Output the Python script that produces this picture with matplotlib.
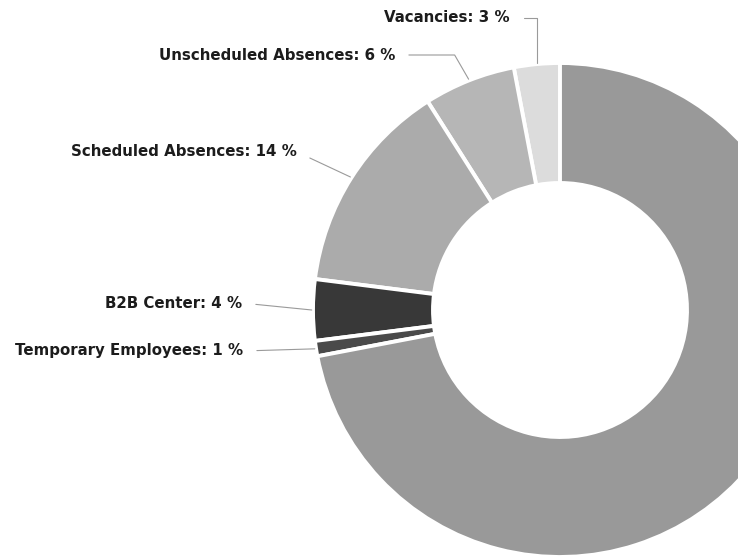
import matplotlib
matplotlib.use('Agg')
import matplotlib.pyplot as plt
import numpy as np

# staffing shrinkage breakdown, in percent
categories = ['Vacancies', 'Unscheduled Absences', 'Scheduled Absences',
              'B2B Center', 'Temporary Employees', 'Available']
shares = [3, 6, 14, 4, 1, 72]
colors = ['#dcdcdc', '#b6b6b6', '#ababab', '#383838', '#4a4a4a', '#999999']
show_label = [True, True, True, True, True, False]

# label anchor (right edge of text, in pixel units of the axes) and leader style
label_pos = [(510, 539), (395, 502), (297, 405), (242, 254), (243, 206)]
leader_style = ['angle,angleA=0,angleB=90,rad=0',
                'angle,angleA=0,angleB=120,rad=0',
                'arc3,rad=0', 'arc3,rad=0', 'arc3,rad=0']


def main():
    fig = plt.figure(figsize=(7.47, 5.57), dpi=100)
    ax = fig.add_axes([0, 0, 738 / 747, 1])

    cx, cy, r_out, r_in = 560, 247, 247, 127
    wedges, _ = ax.pie(shares, colors=colors, startangle=90, counterclock=True,
                       radius=r_out, center=(cx, cy),
                       wedgeprops=dict(width=r_out - r_in, edgecolor='white',
                                       linewidth=2.8))
    # the ring runs past the right edge of the plot area and is cut there
    for w in wedges:
        w.set_clip_path(ax.patch)
        w.set_clip_on(True)

    for i, w in enumerate(wedges):
        if not show_label[i]:
            continue
        mid = np.deg2rad((w.theta1 + w.theta2) / 2)
        tip = (cx + r_out * 1.005 * np.cos(mid), cy + r_out * 1.005 * np.sin(mid))
        ax.annotate('{}: {} %'.format(categories[i], shares[i]), xy=tip,
                    xytext=label_pos[i], ha='right', va='center',
                    fontsize=10.8, fontweight='bold', color='#1c1c1c',
                    annotation_clip=False,
                    arrowprops=dict(arrowstyle='-', color='#9a9a9a', lw=0.8,
                                    relpos=(1, 0.5), shrinkA=8, shrinkB=0,
                                    connectionstyle=leader_style[i]))

    ax.set_aspect('auto')
    ax.set_xlim(0, 738)
    ax.set_ylim(0, 557)
    ax.axis('off')
    fig.savefig('out.png', dpi=100, facecolor='white')


if __name__ == '__main__':
    main()
